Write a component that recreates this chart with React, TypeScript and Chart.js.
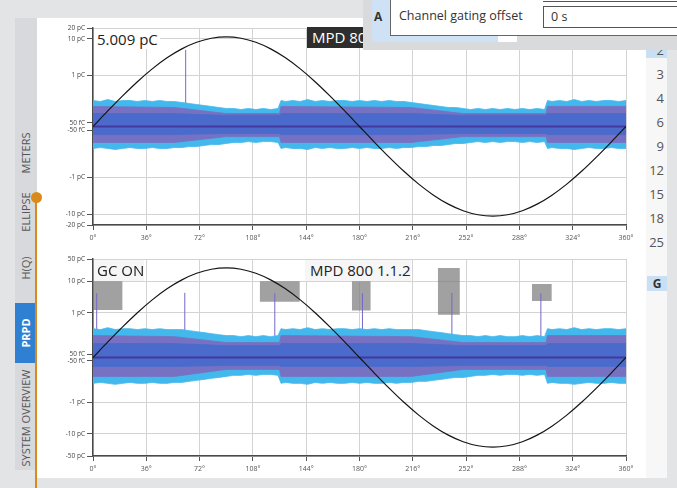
import React, { useEffect, useRef } from "react";
import { Chart, registerables } from "chart.js";

Chart.register(...registerables);

const FONT = "'Open Sans', 'Noto Sans', sans-serif";
Chart.defaults.font.family = FONT;

// ---------- axes ----------
const PHASE_TICKS = [0, 36, 72, 108, 144, 180, 216, 252, 288, 324, 360];
const TOP_Y_TICKS = [-20, -10, -1, -0.05, 0.05, 1, 10, 20];
const TOP_Y_LABELS = ["-20 pC", "-10 pC", "-1 pC", "-50 fC", "50 fC", "1 pC", "10 pC", "20 pC"];
const TOP_Y_MAX = 20;
const BOT_Y_TICKS = [-50, -10, -1, -0.05, 0.05, 1, 10, 50];
const BOT_Y_LABELS = ["-50 pC", "-10 pC", "-1 pC", "-50 fC", "50 fC", "1 pC", "10 pC", "50 pC"];
const BOT_Y_MAX = 50;

// ---------- reference sine (fraction of half height) ----------
const SINE_PHASE = [0, 10, 20, 30, 40, 50, 60, 70, 80, 90, 100, 110, 120, 130, 140, 150, 160, 170, 180,
  190, 200, 210, 220, 230, 240, 250, 260, 270, 280, 290, 300, 310, 320, 330, 340, 350, 360];
const SINE_REF = [0, 0.158, 0.311, 0.455, 0.585, 0.697, 0.788, 0.855, 0.896, 0.91, 0.896, 0.855, 0.788, 0.697, 0.585, 0.455, 0.311, 0.158, 0,
  -0.158, -0.311, -0.455, -0.585, -0.697, -0.788, -0.855, -0.896, -0.91, -0.896, -0.855, -0.788, -0.697, -0.585, -0.455, -0.311, -0.158, 0];

// ---------- noise band (pC) ----------
const BAND_PHASE = [0, 5, 10, 15, 20, 25, 30, 35, 40, 45, 50, 55,
  60, 65, 70, 75, 80, 85, 90, 95, 100, 105, 110, 115, 120, 125,
  127, 130, 135, 140, 145, 150, 155, 160, 165, 170, 175, 180, 185, 190, 195, 200, 205, 210,
  215, 220, 225, 230, 235, 240, 245, 250, 255, 260, 265, 270, 275, 280, 285, 290, 295, 300, 305,
  307, 310, 315, 320, 325, 330, 335, 340, 345, 350, 355, 360];

const TOP_CYAN_UP = [0.205, 0.193, 0.218, 0.193, 0.205, 0.205, 0.193, 0.205, 0.193, 0.205, 0.193, 0.193,
  0.181, 0.17, 0.159, 0.15, 0.141, 0.132, 0.124, 0.124, 0.116, 0.124, 0.116, 0.124, 0.116, 0.124,
  0.205, 0.193, 0.205, 0.193, 0.218, 0.193, 0.205, 0.193, 0.205, 0.205, 0.193, 0.205, 0.193, 0.205, 0.193, 0.205, 0.193, 0.193,
  0.181, 0.17, 0.159, 0.15, 0.141, 0.132, 0.132, 0.124, 0.116, 0.124, 0.116, 0.124, 0.116, 0.124, 0.116, 0.124, 0.116, 0.124, 0.116,
  0.205, 0.193, 0.205, 0.193, 0.218, 0.193, 0.205, 0.193, 0.205, 0.205, 0.193, 0.205];
const TOP_CYAN_LO = [-0.159, -0.15, -0.159, -0.17, -0.159, -0.15, -0.159, -0.159, -0.15, -0.159, -0.159, -0.15,
  -0.15, -0.141, -0.141, -0.132, -0.124, -0.124, -0.116, -0.109, -0.109, -0.103, -0.109, -0.103, -0.103, -0.109,
  -0.159, -0.15, -0.159, -0.159, -0.17, -0.15, -0.159, -0.15, -0.159, -0.159, -0.15, -0.159, -0.15, -0.159, -0.159, -0.15, -0.159, -0.15,
  -0.15, -0.141, -0.141, -0.132, -0.132, -0.124, -0.116, -0.116, -0.109, -0.103, -0.109, -0.103, -0.109, -0.103, -0.103, -0.109, -0.103, -0.109, -0.103,
  -0.159, -0.15, -0.159, -0.159, -0.17, -0.159, -0.15, -0.159, -0.159, -0.15, -0.159, -0.159];

const BOT_CYAN_UP = [0.321, 0.3, 0.345, 0.3, 0.321, 0.321, 0.3, 0.321, 0.3, 0.321, 0.3, 0.3,
  0.3, 0.278, 0.259, 0.241, 0.224, 0.208, 0.194, 0.194, 0.18, 0.194, 0.18, 0.194, 0.18, 0.194,
  0.321, 0.3, 0.321, 0.3, 0.345, 0.3, 0.321, 0.3, 0.321, 0.321, 0.3, 0.321, 0.3, 0.321, 0.3, 0.321, 0.3, 0.3,
  0.3, 0.3, 0.278, 0.259, 0.241, 0.224, 0.208, 0.194, 0.194, 0.18, 0.194, 0.18, 0.194, 0.18, 0.18, 0.194, 0.18, 0.194, 0.18,
  0.321, 0.3, 0.321, 0.3, 0.345, 0.3, 0.321, 0.3, 0.321, 0.321, 0.3, 0.321];
const BOT_CYAN_LO = [-0.259, -0.241, -0.259, -0.278, -0.259, -0.241, -0.259, -0.259, -0.241, -0.259, -0.259, -0.241,
  -0.241, -0.224, -0.208, -0.194, -0.18, -0.168, -0.156, -0.145, -0.145, -0.135, -0.145, -0.135, -0.135, -0.145,
  -0.259, -0.241, -0.259, -0.259, -0.278, -0.241, -0.259, -0.241, -0.259, -0.259, -0.241, -0.259, -0.241, -0.259, -0.259, -0.241, -0.259, -0.241,
  -0.241, -0.224, -0.224, -0.208, -0.194, -0.18, -0.168, -0.168, -0.156, -0.145, -0.145, -0.135, -0.145, -0.135, -0.135, -0.145, -0.135, -0.145, -0.135,
  -0.259, -0.241, -0.259, -0.259, -0.278, -0.259, -0.241, -0.259, -0.259, -0.241, -0.259, -0.259];

const MID_PHASE = [0, 55, 90, 126, 127, 215, 250, 306, 307, 360];
const TOP_MAUVE_UP = [0.141, 0.132, 0.09, 0.09, 0.141, 0.132, 0.09, 0.09, 0.141, 0.141];
const TOP_MAUVE_LO = [-0.109, -0.109, -0.075, -0.075, -0.109, -0.109, -0.075, -0.075, -0.109, -0.109];
const TOP_BLUE_UP = [0.09, 0.09, 0.08, 0.08, 0.09, 0.09, 0.08, 0.08, 0.09, 0.09];
const TOP_BLUE_LO = [-0.066, -0.066, -0.062, -0.062, -0.066, -0.066, -0.062, -0.062, -0.066, -0.066];
const BOT_MAUVE_UP = [0.194, 0.18, 0.117, 0.117, 0.194, 0.18, 0.117, 0.117, 0.194, 0.194];
const BOT_MAUVE_LO = [-0.156, -0.156, -0.094, -0.094, -0.156, -0.156, -0.094, -0.094, -0.156, -0.156];
const BOT_BLUE_UP = [0.109, 0.109, 0.094, 0.094, 0.109, 0.109, 0.094, 0.094, 0.109, 0.109];
const BOT_BLUE_LO = [-0.076, -0.076, -0.071, -0.071, -0.076, -0.076, -0.071, -0.071, -0.076, -0.076];

// ---------- discharge pulses ----------
const TOP_SPIKE_PHASE = [62.6];
const TOP_SPIKE_PC = [5.009];
const BOT_SPIKE_PHASE = [2.5, 62, 122.8, 182, 242.4, 302.5];
const BOT_SPIKE_PC = [4.2, 4.3, 4.2, 4.2, 4.3, 4.2];

// ---------- gating windows (bottom chart) ----------
const GATE_START = [0, 112.6, 174.8, 232.9, 296.4];
const GATE_END = [20, 139.7, 187.6, 247.8, 309.9];
const GATE_HIGH = [10, 10, 10, 26, 8.2];
const GATE_LOW = [1.25, 2.25, 1.2, 0.88, 2.4];

// ---------- UI text ----------
const LEVEL_ROWS = ["2", "3", "4", "6", "9", "12", "15", "18", "25"];
const TABS = [
  { text: "METERS", cy: 153 },
  { text: "ELLIPSE", cy: 212 },
  { text: "H(Q)", cy: 268 },
  { text: "PRPD", cy: 333, active: true },
  { text: "SYSTEM OVERVIEW", cy: 418 },
];

// symmetric log transform used by the y scale
const LIN_LIMIT = 0.05;
const LIN_SPAN = 0.1;
function symlog(v: number): number {
  const a = Math.abs(v);
  if (a <= LIN_LIMIT) return (v / LIN_LIMIT) * LIN_SPAN;
  return Math.sign(v) * (LIN_SPAN + Math.log10(a / LIN_LIMIT));
}

const pts = (xs: number[], ys: number[]) => xs.map((x, i) => ({ x, y: symlog(ys[i]) }));

function bandPair(xs: number[], up: number[], lo: number[], color: string, order: number) {
  return [
    { data: pts(xs, up), borderColor: color, backgroundColor: color, borderWidth: 0.8, fill: "+1", order },
    { data: pts(xs, lo), borderColor: color, backgroundColor: color, borderWidth: 0.8, fill: false, order },
  ];
}

interface ChartSpec {
  yTicks: number[];
  yLabels: string[];
  yMax: number;
  cyanUp: number[];
  cyanLo: number[];
  mauveUp: number[];
  mauveLo: number[];
  blueUp: number[];
  blueLo: number[];
  spikePhase: number[];
  spikePc: number[];
  gates: boolean;
}

function buildConfig(s: ChartSpec): any {
  const datasets: any[] = [];
  datasets.push({
    data: SINE_PHASE.map((p, i) => ({ x: p, y: SINE_REF[i] })),
    yAxisID: "yS",
    borderColor: "#151515",
    borderWidth: 1.2,
    cubicInterpolationMode: "monotone",
    fill: false,
    order: 0,
  });
  datasets.push({
    data: [{ x: 0, y: 0 }, { x: 360, y: 0 }],
    borderColor: "#44389e",
    borderWidth: 2,
    fill: false,
    order: 1,
  });
  datasets.push(...bandPair(MID_PHASE, s.blueUp, s.blueLo, "#4a6bcb", 2));
  datasets.push(...bandPair(MID_PHASE, s.mauveUp, s.mauveLo, "#7671c3", 3));
  datasets.push(...bandPair(BAND_PHASE, s.cyanUp, s.cyanLo, "#42b8ec", 4));
  const spikeData: any[] = [];
  s.spikePhase.forEach((p, i) => {
    spikeData.push({ x: p, y: 0 }, { x: p, y: symlog(s.spikePc[i]) }, { x: p, y: null });
  });
  datasets.push({ data: spikeData, borderColor: "#7468c8", borderWidth: 1, fill: false, order: 5, spanGaps: false });
  if (s.gates) {
    GATE_START.forEach((g, i) => {
      const c = "rgba(125,125,125,0.72)";
      datasets.push({
        data: [{ x: g, y: symlog(GATE_HIGH[i]) }, { x: GATE_END[i], y: symlog(GATE_HIGH[i]) }],
        borderWidth: 0, borderColor: c, backgroundColor: c, fill: "+1", order: 6,
      });
      datasets.push({
        data: [{ x: g, y: symlog(GATE_LOW[i]) }, { x: GATE_END[i], y: symlog(GATE_LOW[i]) }],
        borderWidth: 0, borderColor: c, backgroundColor: c, fill: false, order: 6,
      });
    });
  }

  const tickVals = s.yTicks.map(symlog);
  return {
    type: "line",
    data: { datasets },
    options: {
      responsive: false,
      animation: false,
      events: [],
      layout: { padding: { top: 10, right: 14, left: 0, bottom: 0 } },
      elements: { point: { radius: 0 }, line: { tension: 0 } },
      plugins: {
        legend: { display: false },
        tooltip: { enabled: false },
        filler: { propagate: false },
      },
      scales: {
        x: {
          type: "linear",
          min: 0,
          max: 360,
          afterBuildTicks: (ax: any) => {
            ax.ticks = PHASE_TICKS.map((v) => ({ value: v }));
          },
          afterFit: (ax: any) => {
            ax.height = 28;
          },
          ticks: {
            autoSkip: false,
            maxRotation: 0,
            padding: 4,
            color: "#555",
            font: { size: 7 },
            callback: (v: any) => `${v}°`,
          },
          grid: { color: "#d3d3d3", tickColor: "#555", tickLength: 5, lineWidth: 1 },
          border: { color: "#4a4a4a", width: 1.5 },
        },
        y: {
          type: "linear",
          min: symlog(-s.yMax),
          max: symlog(s.yMax),
          afterBuildTicks: (ax: any) => {
            ax.ticks = tickVals.map((v) => ({ value: v }));
          },
          afterFit: (ax: any) => {
            ax.width = 53;
          },
          ticks: {
            autoSkip: false,
            padding: 2,
            color: "#444",
            font: { size: 6.5 },
            callback: (v: any) => {
              const i = tickVals.findIndex((t) => Math.abs(t - v) < 1e-9);
              return i >= 0 ? s.yLabels[i] : "";
            },
          },
          grid: { color: "#d3d3d3", tickColor: "#555", tickLength: 6, lineWidth: 1 },
          border: { color: "#4a4a4a", width: 1.5 },
        },
        yS: { type: "linear", min: -1, max: 1, display: false },
      },
    },
  };
}

function PrpdChart({ spec, left, top }: { spec: ChartSpec; left: number; top: number }) {
  const ref = useRef<HTMLCanvasElement>(null);
  useEffect(() => {
    const chart = new Chart(ref.current as HTMLCanvasElement, buildConfig(spec));
    return () => chart.destroy();
  }, []);
  return (
    <canvas
      ref={ref}
      width={600}
      height={235}
      style={{ position: "absolute", left, top, width: 600, height: 235 }}
    />
  );
}

const TOP_SPEC: ChartSpec = {
  yTicks: TOP_Y_TICKS, yLabels: TOP_Y_LABELS, yMax: TOP_Y_MAX,
  cyanUp: TOP_CYAN_UP, cyanLo: TOP_CYAN_LO, mauveUp: TOP_MAUVE_UP, mauveLo: TOP_MAUVE_LO,
  blueUp: TOP_BLUE_UP, blueLo: TOP_BLUE_LO, spikePhase: TOP_SPIKE_PHASE, spikePc: TOP_SPIKE_PC, gates: false,
};
const BOT_SPEC: ChartSpec = {
  yTicks: BOT_Y_TICKS, yLabels: BOT_Y_LABELS, yMax: BOT_Y_MAX,
  cyanUp: BOT_CYAN_UP, cyanLo: BOT_CYAN_LO, mauveUp: BOT_MAUVE_UP, mauveLo: BOT_MAUVE_LO,
  blueUp: BOT_BLUE_UP, blueLo: BOT_BLUE_LO, spikePhase: BOT_SPIKE_PHASE, spikePc: BOT_SPIKE_PC, gates: true,
};

const abs = (l: number, t: number, w: number, h: number, extra: any = {}) => ({
  position: "absolute" as const, left: l, top: t, width: w, height: h, ...extra,
});

export default function App() {
  useEffect(() => {
    document.body.style.margin = "0";
  }, []);
  return (
    <div style={{ position: "relative", width: 677, height: 488, overflow: "hidden", background: "#e3e4e6", fontFamily: FONT }}>
      {/* side tab column */}
      <div style={abs(15, 18, 22, 452, { background: "#d8d9dc" })} />
      <div style={abs(15, 303, 22, 60, { background: "#2f80d3" })} />
      {TABS.map((t) => (
        <div
          key={t.text}
          style={abs(26 - 70, t.cy - 8, 140, 16, {
            lineHeight: "16px", textAlign: "center", transform: "rotate(-90deg)",
            fontSize: 11, color: t.active ? "#fff" : "#555", fontWeight: t.active ? 700 : 400, whiteSpace: "nowrap",
          })}
        >
          {t.text}
        </div>
      ))}
      {/* main white panel */}
      <div style={abs(37, 18, 630, 460, { background: "#fff" })} />
      {/* level column */}
      <div style={abs(646, 18, 21, 460, { background: "#f7f7f7" })} />
      <div style={abs(646, 38, 21, 20, { background: "#c9dff4" })} />
      {LEVEL_ROWS.map((r, i) => (
        <div key={r} style={abs(640, 50 + i * 24 - 9, 24, 18, { textAlign: "right", fontSize: 13, lineHeight: "18px", color: "#555" })}>
          {r}
        </div>
      ))}
      <div style={abs(647, 276, 20, 15, { background: "#c9dff4", textAlign: "center", fontSize: 12, fontWeight: 700, lineHeight: "15px", color: "#333" })}>
        G
      </div>

      <PrpdChart spec={TOP_SPEC} left={40} top={18} />
      <PrpdChart spec={BOT_SPEC} left={40} top={249} />

      {/* chart captions */}
      <div style={abs(94, 29, 66, 20, { background: "#fff", fontSize: 15, lineHeight: "20px", color: "#222", paddingLeft: 3, boxSizing: "border-box" })}>
        5.009 pC
      </div>
      <div style={abs(307, 27, 115, 21, { background: "#2e2e2e", fontSize: 15, lineHeight: "21px", color: "#fff", paddingLeft: 5, boxSizing: "border-box", whiteSpace: "nowrap" })}>
        MPD 800 1.1.2
      </div>
      <div style={abs(94, 260, 50, 21, { background: "#f6f6f6", fontSize: 15, lineHeight: "21px", color: "#222", paddingLeft: 3, boxSizing: "border-box", whiteSpace: "nowrap" })}>
        GC ON
      </div>
      <div style={abs(305, 260, 106, 21, { background: "#f6f6f6", fontSize: 15, lineHeight: "21px", color: "#222", paddingLeft: 5, boxSizing: "border-box", whiteSpace: "nowrap" })}>
        MPD 800 1.1.2
      </div>

      {/* orange timeline */}
      <div style={abs(35, 197, 2, 291, { background: "#d88b1c" })} />
      <div style={abs(31, 192, 11, 11, { background: "#d88b1c", borderRadius: "50%" })} />

      {/* settings dialog */}
      <div style={abs(363, 0, 314, 50, { background: "#d9dadc" })} />
      <div style={abs(372, 0, 18, 42, { background: "#cfe2f5" })} />
      <div style={abs(390, 36, 108, 6, { background: "#cfe2f5" })} />
      <div style={abs(498, 36, 19, 6, { background: "#fff" })} />
      <div style={abs(390, 0, 300, 36, { background: "#fff", borderLeft: "1px solid #666", borderBottom: "1px solid #666", boxSizing: "border-box" })} />
      <div style={abs(374, 7, 14, 20, { fontSize: 12, fontWeight: 700, color: "#333", lineHeight: "20px" })}>A</div>
      <div style={abs(399, 6, 140, 20, { fontSize: 12.5, color: "#333", lineHeight: "20px", whiteSpace: "nowrap" })}>
        Channel gating offset
      </div>
      <div style={abs(543, 0, 150, 2, { borderBottom: "1px solid #555", boxSizing: "border-box" })} />
      <div style={abs(543, 6, 150, 22, { border: "1px solid #555", boxSizing: "border-box", fontSize: 12.5, lineHeight: "20px", paddingLeft: 7, color: "#333" })}>
        0 s
      </div>
    </div>
  );
}
